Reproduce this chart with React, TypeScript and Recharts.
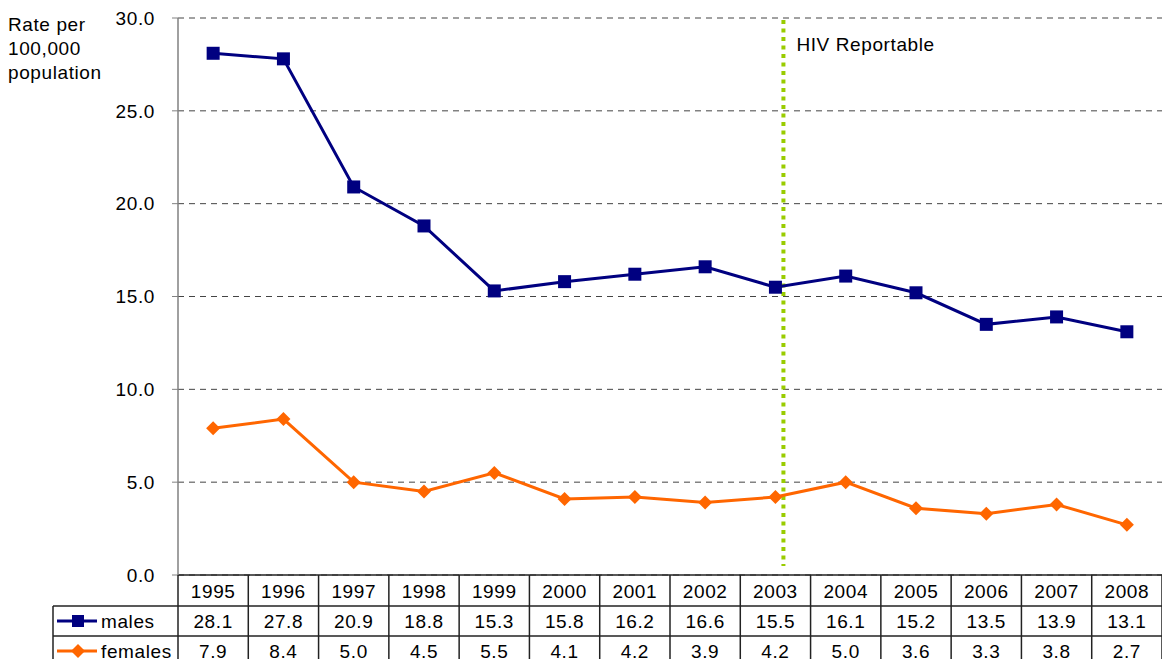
import React from 'react';
import { LineChart, Line, XAxis, YAxis, CartesianGrid, ReferenceLine } from 'recharts';

const years = ['1995', '1996', '1997', '1998', '1999', '2000', '2001', '2002', '2003', '2004', '2005', '2006', '2007', '2008'];
const males = [28.1, 27.8, 20.9, 18.8, 15.3, 15.8, 16.2, 16.6, 15.5, 16.1, 15.2, 13.5, 13.9, 13.1];
const females = [7.9, 8.4, 5.0, 4.5, 5.5, 4.1, 4.2, 3.9, 4.2, 5.0, 3.6, 3.3, 3.8, 2.7];
const yTicks = [0, 5, 10, 15, 20, 25, 30];
const markerYear = '2003';

const data = years.map((y, i) => ({ year: y, males: males[i], females: females[i] }));

const W = 1162;
const H = 659;
const LEFT = 178;
const TOP = 18;
const AXIS_Y = 575;
const BAND = (W - LEFT) / years.length;
const FONT = '"Liberation Sans", Arial, sans-serif';
const NAVY = '#000080';
const ORANGE = '#FF6600';
const GREEN = '#99CC00';
const BORDER = '#222';

const txt = { fontFamily: FONT, fontSize: 19, letterSpacing: 0.6, fill: '#000' };

const SquareDot = (props: any) => {
  const { cx, cy } = props;
  if (cx == null || cy == null) return null;
  return <rect x={cx - 6.5} y={cy - 6.5} width={13} height={13} fill={NAVY} />;
};

const DiamondDot = (props: any) => {
  const { cx, cy } = props;
  if (cx == null || cy == null) return null;
  return <path d={`M${cx},${cy - 7}L${cx + 7},${cy}L${cx},${cy + 7}L${cx - 7},${cy}Z`} fill={ORANGE} />;
};

// x axis tick draws one column of the data table
const TableTick = (props: any) => {
  const { x, index, payload } = props;
  const l = x - BAND / 2;
  const r = x + BAND / 2;
  const rows = [AXIS_Y + 16, AXIS_Y + 46, AXIS_Y + 76];
  return (
    <g>
      <line x1={l} y1={AXIS_Y} x2={l} y2={H} stroke={BORDER} strokeWidth={1.5} />
      {index === years.length - 1 && <line x1={r} y1={AXIS_Y} x2={r} y2={H} stroke={BORDER} strokeWidth={1.5} />}
      <line x1={l} y1={AXIS_Y + 31} x2={r} y2={AXIS_Y + 31} stroke={BORDER} strokeWidth={1.5} />
      <line x1={l} y1={AXIS_Y + 61} x2={r} y2={AXIS_Y + 61} stroke={BORDER} strokeWidth={1.5} />
      <text x={x} y={rows[0]} textAnchor="middle" dominantBaseline="central" {...txt}>{payload.value}</text>
      <text x={x} y={rows[1]} textAnchor="middle" dominantBaseline="central" {...txt}>{males[index].toFixed(1)}</text>
      <text x={x} y={rows[2]} textAnchor="middle" dominantBaseline="central" {...txt}>{females[index].toFixed(1)}</text>
      {index === 0 && (
        <g>
          <line x1={53} y1={AXIS_Y + 31} x2={l} y2={AXIS_Y + 31} stroke={BORDER} strokeWidth={1.5} />
          <line x1={53} y1={AXIS_Y + 61} x2={l} y2={AXIS_Y + 61} stroke={BORDER} strokeWidth={1.5} />
          <line x1={53} y1={AXIS_Y + 31} x2={53} y2={H} stroke={BORDER} strokeWidth={1.5} />
          <line x1={57} y1={rows[1]} x2={97} y2={rows[1]} stroke={NAVY} strokeWidth={3} />
          <rect x={72} y={rows[1] - 6} width={12} height={12} fill={NAVY} />
          <text x={101} y={rows[1]} dominantBaseline="central" {...txt}>males</text>
          <line x1={57} y1={rows[2]} x2={97} y2={rows[2]} stroke={ORANGE} strokeWidth={3} />
          <path d={`M78,${rows[2] - 7}L85,${rows[2]}L78,${rows[2] + 7}L71,${rows[2]}Z`} fill={ORANGE} />
          <text x={101} y={rows[2]} dominantBaseline="central" {...txt}>females</text>
        </g>
      )}
    </g>
  );
};

const HivLine = (props: any) => {
  const { x1, y1, y2 } = props;
  const top = Math.min(y1, y2);
  const bottom = Math.max(y1, y2);
  const x = x1 + 8;
  return (
    <g>
      <line x1={x} y1={top + 2} x2={x} y2={bottom - 9} stroke={GREEN} strokeWidth={4} strokeDasharray="4 4.5" />
      <text x={x + 13} y={top + 26} dominantBaseline="central" {...txt}>HIV Reportable</text>
    </g>
  );
};

export default function App() {
  return (
    <div style={{ position: 'absolute', left: 0, top: 0, width: W, height: H, background: '#fff', overflow: 'hidden' }}>
      <div style={{ position: 'absolute', left: 8, top: 13, fontFamily: FONT, fontSize: 19, letterSpacing: 0.6, lineHeight: '24px', color: '#000' }}>
        Rate per<br />100,000<br />population
      </div>
      <LineChart width={W} height={H} data={data} margin={{ top: TOP, right: 0, left: 0, bottom: 0 }}>
        <CartesianGrid vertical={false} stroke="#444" strokeDasharray="6 5" />
        <XAxis
          dataKey="year"
          scale="band"
          height={H - AXIS_Y}
          axisLine={{ stroke: BORDER, strokeWidth: 1.5 }}
          tickLine={false}
          interval={0}
          tick={<TableTick />}
        />
        <YAxis
          width={LEFT}
          domain={[0, 30]}
          ticks={yTicks}
          tickFormatter={(v: number) => v.toFixed(1)}
          axisLine={{ stroke: '#808080', strokeWidth: 1.5 }}
          tickLine={{ stroke: '#808080' }}
          tickSize={6}
          tickMargin={17}
          tick={{ ...txt }}
          interval={0}
        />
        <ReferenceLine x={markerYear} shape={<HivLine />} />
        <Line dataKey="males" stroke={NAVY} strokeWidth={3} dot={<SquareDot />} activeDot={false} isAnimationActive={false} />
        <Line dataKey="females" stroke={ORANGE} strokeWidth={3} dot={<DiamondDot />} activeDot={false} isAnimationActive={false} />
      </LineChart>
    </div>
  );
}
